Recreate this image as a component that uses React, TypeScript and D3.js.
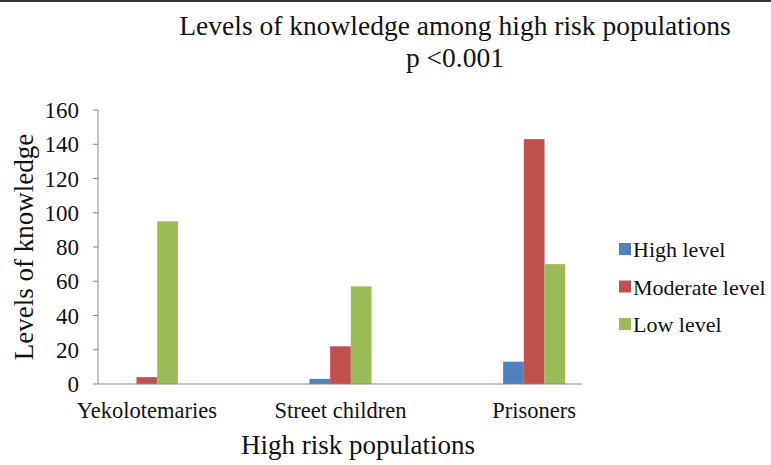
import React from "react";
import * as d3 from "d3";

const categories = ["Yekolotemaries", "Street children", "Prisoners"];
const seriesNames = ["High level", "Moderate level", "Low level"];
const highLevel = [0, 3, 13];
const moderateLevel = [4, 22, 143];
const lowLevel = [95, 57, 70];
const yTicks = [0, 20, 40, 60, 80, 100, 120, 140, 160];

const colors = ["#4F81BD", "#C0504D", "#9BBB59"];
const font = "Liberation Serif, Times New Roman, serif";

export default function App() {
  const width = 771;
  const height = 465;
  const axisLeft = 98;
  const axisRight = 582;

  const values = [highLevel, moderateLevel, lowLevel];

  const y = d3.scaleLinear().domain([0, 160]).range([384, 110]);
  const x0 = d3.scaleBand<string>().domain(categories).range([50, 631]);
  const x1 = d3
    .scaleBand<string>()
    .domain(seriesNames)
    .range([0, x0.bandwidth()])
    .paddingOuter(3.18);

  const txt = { fontFamily: font, fill: "#111" };

  return (
    <div style={{ position: "absolute", left: 0, top: 0, background: "#fff" }}>
      <svg width={width} height={height} style={{ display: "block" }}>
        <rect x={0} y={0} width={width} height={height} fill="#fff" />
        <line x1={0} x2={width} y1={1} y2={1} stroke="#333" strokeWidth={2} />

        <text x={455} y={35} textAnchor="middle" fontSize={27.5} style={txt}>
          Levels  of knowledge among high risk populations
        </text>
        <text x={455} y={67} textAnchor="middle" fontSize={27.5} style={txt}>
          p &lt;0.001
        </text>

        {/* y axis */}
        <line x1={axisLeft} x2={axisLeft} y1={y(160)} y2={y(0)} stroke="#868686" />
        {yTicks.map((t) => (
          <g key={t}>
            <line x1={axisLeft - 5} x2={axisLeft} y1={y(t)} y2={y(t)} stroke="#868686" />
            <text
              x={axisLeft - 19}
              y={y(t)}
              dy="0.35em"
              textAnchor="end"
              fontSize={23}
              style={txt}
            >
              {t}
            </text>
          </g>
        ))}

        {/* bars */}
        {categories.map((c, ci) => (
          <g key={c} transform={`translate(${x0(c)},0)`}>
            {seriesNames.map((s, si) => {
              const v = values[si][ci];
              return (
                <rect
                  key={s}
                  x={x1(s)}
                  y={y(v)}
                  width={x1.bandwidth()}
                  height={y(0) - y(v)}
                  fill={colors[si]}
                />
              );
            })}
          </g>
        ))}

        {/* x axis */}
        <line x1={axisLeft} x2={axisRight} y1={y(0)} y2={y(0)} stroke="#868686" />
        {categories.map((c) => (
          <text
            key={c}
            x={(x0(c) ?? 0) + x0.bandwidth() / 2}
            y={418}
            textAnchor="middle"
            fontSize={22.5}
            style={txt}
          >
            {c}
          </text>
        ))}

        <text x={358} y={454} textAnchor="middle" fontSize={27} style={txt}>
          High risk populations
        </text>
        <text
          transform={`translate(33,${(y(0) + y(160)) / 2}) rotate(-90)`}
          textAnchor="middle"
          fontSize={27}
          style={txt}
        >
          Levels of knowledge
        </text>

        {/* legend */}
        {seriesNames.map((s, i) => (
          <g key={s} transform={`translate(619,${257 + i * 37.5})`}>
            <rect x={0} y={-14} width={12} height={12} fill={colors[i]} />
            <text x={14} y={0} fontSize={22} style={txt}>
              {s}
            </text>
          </g>
        ))}
      </svg>
    </div>
  );
}
